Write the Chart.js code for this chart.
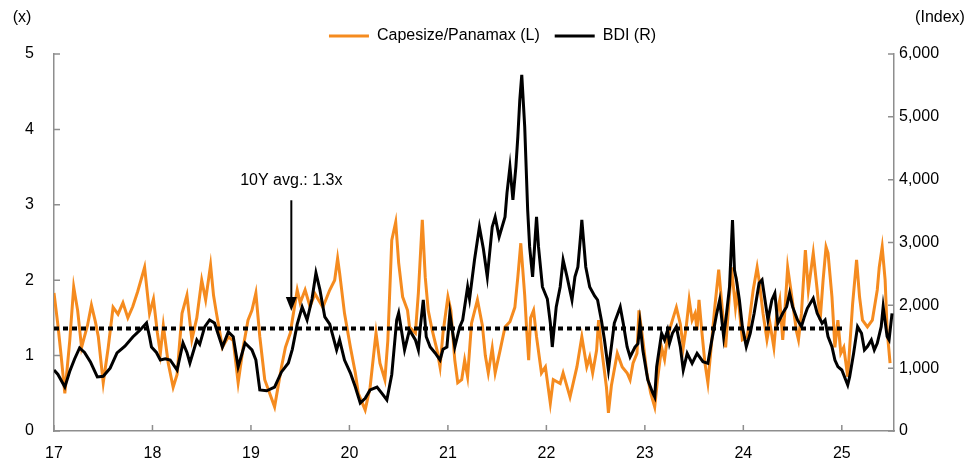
<!DOCTYPE html>
<html>
<head>
<meta charset="utf-8">
<title>Capesize/Panamax vs BDI</title>
<script src="https://cdn.jsdelivr.net/npm/chart.js@4.4.1/dist/chart.umd.min.js"></script>
<style>
    html, body { margin: 0; padding: 0; background: #fff; }
    #wrap { width: 973px; height: 463px; }
</style>
</head>
<body>
<div id="wrap"><canvas id="chart" width="973" height="463"></canvas></div>
<script>
// ---------- DATA ----------
const yearTicks = [2017, 2018, 2019, 2020, 2021, 2022, 2023, 2024, 2025];
const yearLabels = ["17", "18", "19", "20", "21", "22", "23", "24", "25"];

// Capesize/Panamax ratio (x), left axis
const capeDates = [
    2017.00, 2017.04, 2017.07, 2017.11, 2017.16, 2017.20, 2017.24, 2017.28, 2017.34, 2017.38,
    2017.42, 2017.45, 2017.50, 2017.55, 2017.60, 2017.65, 2017.70, 2017.75, 2017.80, 2017.85,
    2017.92, 2017.97, 2018.01, 2018.05, 2018.08, 2018.11, 2018.16, 2018.21, 2018.25, 2018.30,
    2018.35, 2018.40, 2018.45, 2018.50, 2018.54, 2018.59, 2018.62, 2018.65, 2018.71, 2018.77,
    2018.82, 2018.87, 2018.92, 2018.97, 2019.01, 2019.05, 2019.09, 2019.14, 2019.19, 2019.24,
    2019.31, 2019.35, 2019.40, 2019.42, 2019.47, 2019.50, 2019.55, 2019.60, 2019.65, 2019.73,
    2019.80, 2019.85, 2019.88, 2019.90, 2019.95, 2020.01, 2020.06, 2020.09, 2020.16, 2020.21,
    2020.27, 2020.31, 2020.36, 2020.39, 2020.43, 2020.47, 2020.50, 2020.54, 2020.59, 2020.61,
    2020.67, 2020.70, 2020.74, 2020.77, 2020.80, 2020.84, 2020.89, 2020.92, 2020.95, 2021.00,
    2021.03, 2021.07, 2021.10, 2021.14, 2021.17, 2021.20, 2021.24, 2021.30, 2021.35, 2021.38,
    2021.41, 2021.45, 2021.48, 2021.53, 2021.58, 2021.63, 2021.68, 2021.71, 2021.74, 2021.78,
    2021.80, 2021.82, 2021.84, 2021.87, 2021.90, 2021.95, 2021.99, 2022.04, 2022.07, 2022.14,
    2022.17, 2022.24, 2022.31, 2022.36, 2022.41, 2022.44, 2022.47, 2022.51, 2022.53, 2022.56,
    2022.61, 2022.63, 2022.66, 2022.72, 2022.77, 2022.82, 2022.85, 2022.88, 2022.92, 2022.94,
    2022.98, 2023.02, 2023.06, 2023.10, 2023.13, 2023.17, 2023.20, 2023.23, 2023.28, 2023.32,
    2023.36, 2023.39, 2023.42, 2023.45, 2023.48, 2023.51, 2023.53, 2023.55, 2023.58, 2023.61,
    2023.64, 2023.68, 2023.71, 2023.75, 2023.79, 2023.82, 2023.85, 2023.88, 2023.92, 2023.94,
    2023.99, 2024.04, 2024.07, 2024.10, 2024.14, 2024.16, 2024.20, 2024.24, 2024.27, 2024.31,
    2024.34, 2024.37, 2024.40, 2024.42, 2024.45, 2024.49, 2024.54, 2024.56, 2024.59, 2024.63,
    2024.66, 2024.71, 2024.75, 2024.78, 2024.81, 2024.84, 2024.86, 2024.90, 2024.93, 2024.96,
    2024.99, 2025.02, 2025.06, 2025.08, 2025.11, 2025.15, 2025.18, 2025.21, 2025.26, 2025.31,
    2025.36, 2025.38, 2025.41, 2025.44, 2025.46, 2025.49
];
const capeValues = [
    1.83, 1.40, 1.03, 0.50, 1.20, 1.91, 1.60, 1.11, 1.40, 1.67,
    1.45, 1.25, 0.64, 1.10, 1.64, 1.55, 1.70, 1.50, 1.65, 1.85,
    2.17, 1.56, 1.75, 1.30, 1.03, 1.40, 0.90, 0.58, 0.75, 1.56,
    1.80, 1.21, 1.50, 2.00, 1.74, 2.20, 1.80, 1.56, 1.11, 1.25,
    1.20, 0.64, 1.10, 1.47, 1.60, 1.83, 1.25, 0.68, 0.50, 0.32,
    0.85, 1.11, 1.30, 1.47, 1.87, 1.70, 1.87, 1.65, 1.82, 1.64,
    1.87, 2.00, 2.29, 2.10, 1.56, 1.11, 0.77, 0.50, 0.28, 0.58,
    1.30, 0.90, 0.68, 1.20, 2.53, 2.77, 2.23, 1.78, 1.60, 1.38,
    1.30, 1.83, 2.80, 2.04, 1.60, 1.34, 1.07, 0.85, 1.30, 1.78,
    1.60, 0.94, 0.64, 0.68, 0.94, 0.72, 1.43, 1.74, 1.40, 1.00,
    0.77, 1.10, 0.77, 1.07, 1.38, 1.45, 1.64, 2.04, 2.49, 1.80,
    1.34, 0.94, 1.50, 1.60, 1.25, 0.77, 0.85, 0.37, 0.68, 0.63,
    0.77, 0.45, 0.85, 1.25, 0.85, 0.98, 0.77, 1.07, 1.47, 1.10,
    0.58, 0.24, 0.60, 1.03, 0.85, 0.77, 0.68, 0.90, 1.03, 1.60,
    1.20, 0.77, 0.50, 0.32, 0.70, 1.11, 0.95, 1.25, 1.47, 1.64,
    1.42, 1.11, 1.38, 1.74, 1.47, 1.56, 1.34, 1.74, 1.30, 0.90,
    0.64, 1.21, 1.64, 2.14, 1.56, 1.11, 1.64, 2.17, 1.64, 1.87,
    1.21, 1.25, 1.56, 1.87, 2.17, 2.00, 1.56, 1.21, 1.43, 1.11,
    1.56, 1.74, 1.21, 1.56, 2.17, 1.80, 1.32, 1.21, 1.56, 2.40,
    1.87, 2.36, 1.87, 1.47, 2.00, 2.44, 2.36, 1.78, 1.11, 1.47,
    1.03, 1.11, 0.72, 1.11, 1.69, 2.27, 1.78, 1.47, 1.38, 1.47,
    1.87, 2.17, 2.44, 2.00, 1.34, 0.90
];

// Baltic Dry Index, right axis
const bdiDates = [
    2017.00, 2017.04, 2017.11, 2017.16, 2017.21, 2017.26, 2017.31, 2017.37, 2017.44, 2017.50,
    2017.57, 2017.64, 2017.72, 2017.80, 2017.87, 2017.94, 2017.97, 2017.99, 2018.04, 2018.08,
    2018.13, 2018.18, 2018.25, 2018.31, 2018.35, 2018.38, 2018.45, 2018.48, 2018.53, 2018.58,
    2018.63, 2018.71, 2018.77, 2018.82, 2018.87, 2018.94, 2019.01, 2019.05, 2019.09, 2019.16,
    2019.24, 2019.31, 2019.38, 2019.42, 2019.47, 2019.52, 2019.57, 2019.62, 2019.66, 2019.70,
    2019.75, 2019.80, 2019.87, 2019.90, 2019.95, 2020.01, 2020.06, 2020.11, 2020.16, 2020.21,
    2020.28, 2020.33, 2020.38, 2020.43, 2020.48, 2020.50, 2020.56, 2020.61, 2020.67, 2020.70,
    2020.72, 2020.75, 2020.78, 2020.82, 2020.87, 2020.92, 2020.95, 2020.99, 2021.02, 2021.07,
    2021.12, 2021.15, 2021.20, 2021.22, 2021.27, 2021.32, 2021.36, 2021.40, 2021.45, 2021.48,
    2021.52, 2021.58, 2021.60, 2021.63, 2021.66, 2021.69, 2021.71, 2021.73, 2021.75, 2021.78,
    2021.81, 2021.83, 2021.86, 2021.90, 2021.92, 2021.96, 2022.01, 2022.04, 2022.06, 2022.10,
    2022.14, 2022.17, 2022.21, 2022.26, 2022.29, 2022.32, 2022.35, 2022.36, 2022.40, 2022.44,
    2022.49, 2022.52, 2022.56, 2022.59, 2022.63, 2022.69, 2022.75, 2022.78, 2022.82, 2022.85,
    2022.90, 2022.93, 2022.95, 2022.98, 2023.03, 2023.08, 2023.10, 2023.12, 2023.17, 2023.20,
    2023.23, 2023.25, 2023.28, 2023.32, 2023.36, 2023.39, 2023.43, 2023.48, 2023.53, 2023.59,
    2023.64, 2023.68, 2023.73, 2023.76, 2023.80, 2023.83, 2023.86, 2023.89, 2023.91, 2023.93,
    2023.96, 2023.99, 2024.03, 2024.07, 2024.11, 2024.16, 2024.19, 2024.22, 2024.25, 2024.29,
    2024.32, 2024.35, 2024.40, 2024.44, 2024.47, 2024.50, 2024.55, 2024.59, 2024.62, 2024.65,
    2024.71, 2024.75, 2024.80, 2024.83, 2024.86, 2024.90, 2024.93, 2024.96, 2025.00, 2025.04,
    2025.06, 2025.08, 2025.12, 2025.16, 2025.20, 2025.23, 2025.26, 2025.30, 2025.33, 2025.36,
    2025.40, 2025.42, 2025.46, 2025.48, 2025.51
];
const bdiValues = [
    971, 900, 700, 950, 1150, 1321, 1250, 1100, 860, 870,
    1000, 1242, 1350, 1497, 1600, 1719, 1500, 1337, 1250, 1130,
    1150, 1130, 971, 1400, 1250, 1082, 1449, 1380, 1656, 1767,
    1720, 1337, 1576, 1500, 1019, 1400, 1290, 1130, 653, 640,
    700, 940, 1082, 1300, 1700, 1974, 1767, 2100, 2515, 2250,
    1815, 1700, 1290, 1450, 1130, 923, 700, 446, 520, 653,
    700, 600, 494, 900, 1767, 1879, 1290, 1608, 1450, 1290,
    1656, 2085, 1500, 1337, 1242, 1130, 1300, 1337, 1879, 1337,
    1656, 1767, 2292, 2100, 2722, 3248, 2900, 2452, 3248, 3407,
    3089, 3407, 3789, 4203, 3677, 4200, 4680, 5270, 5668, 4840,
    3518, 2930, 2452, 3407, 2930, 2292, 2100, 1719, 1337, 1974,
    2292, 2722, 2452, 2085, 2452, 2611, 3152, 3359, 2611, 2292,
    2150, 2085, 1750, 1449, 971, 1719, 1974, 1719, 1337, 1178,
    1337, 1390, 1719, 1280, 812, 605, 541, 1024, 1555, 1449,
    1600, 1396, 1555, 1661, 1343, 971, 1236, 1077, 1236, 1103,
    1077, 1449, 1873, 2085, 1502, 1873, 2298, 3359, 2563, 2404,
    2085, 1661, 1343, 1555, 1873, 2351, 2404, 2085, 1767, 2085,
    2192, 1714, 1873, 1979, 2192, 1979, 1767, 1661, 1820, 1953,
    2112, 1873, 1714, 1767, 1502, 1343, 1130, 1024, 971, 812,
    732, 865, 1236, 1661, 1555, 1290, 1343, 1449, 1290, 1396,
    1661, 1979, 1502, 1449, 1873
];

// 10Y average line (left axis)
const avgDates = [2017.00, 2025.03];
const avgValues = [1.36, 1.36];

// arrow annotation, in data units (x = year, y = left axis)
const noteText = "10Y avg.: 1.3x";
const noteX = 2019.41;
const noteLabelY = 3.32;
const noteTopY = 3.06;
const noteTipY = 1.59;

// ---------- STYLE ----------
const orange = "#F58B1F";
const axisGrey = "#8E8E8E";
const fontFamily = "'Liberation Sans', Arial, Helvetica, sans-serif";

Chart.defaults.font.family = fontFamily;
Chart.defaults.font.size = 16;
Chart.defaults.color = "#000";

const pairs = (xs, ys) => xs.map((x, i) => ({ x: x, y: ys[i] }));

// ---------- PLUGIN: inner tick marks, corner units, arrow note ----------
const extras = {
    id: "extras",
    afterDatasetsDraw(chart) {
        const { ctx, scales } = chart;
        const x = scales.x.getPixelForValue(noteX);
        const yTop = scales.y.getPixelForValue(noteTopY);
        const yTip = scales.y.getPixelForValue(noteTipY);
        ctx.save();
        ctx.strokeStyle = "#000";
        ctx.fillStyle = "#000";
        ctx.lineWidth = 2;
        ctx.beginPath();
        ctx.moveTo(x, yTop);
        ctx.lineTo(x, yTip - 10);
        ctx.stroke();
        ctx.beginPath();
        ctx.moveTo(x - 5.5, yTip - 14);
        ctx.lineTo(x + 5.5, yTip - 14);
        ctx.lineTo(x, yTip);
        ctx.closePath();
        ctx.fill();
        ctx.font = "16px " + fontFamily;
        ctx.textAlign = "center";
        ctx.textBaseline = "middle";
        ctx.fillText(noteText, x, scales.y.getPixelForValue(noteLabelY));
        ctx.restore();
    },
    afterDraw(chart) {
        const { ctx, chartArea: a, scales } = chart;
        ctx.save();
        ctx.strokeStyle = axisGrey;
        ctx.lineWidth = 1.5;
        ctx.beginPath();
        scales.y.ticks.forEach(t => {
            const py = scales.y.getPixelForValue(t.value);
            ctx.moveTo(a.left, py);
            ctx.lineTo(a.left + 6, py);
        });
        scales.y2.ticks.forEach(t => {
            const py = scales.y2.getPixelForValue(t.value);
            ctx.moveTo(a.right, py);
            ctx.lineTo(a.right - 6, py);
        });
        scales.x.ticks.forEach(t => {
            const px = scales.x.getPixelForValue(t.value);
            ctx.moveTo(px, a.bottom);
            ctx.lineTo(px, a.bottom - 6);
        });
        ctx.stroke();

        // unit labels above the axes
        ctx.fillStyle = "#000";
        ctx.font = "16px " + fontFamily;
        ctx.textBaseline = "middle";
        ctx.textAlign = "center";
        ctx.fillText("(x)", a.left - 32, 18);
        ctx.fillText("(Index)", a.right + 46, 18);
        ctx.restore();
    }
};

// ---------- CHART ----------
new Chart(document.getElementById("chart"), {
    type: "line",
    data: {
        datasets: [
            {
                label: "Capesize/Panamax (L)",
                data: pairs(capeDates, capeValues),
                borderColor: orange,
                backgroundColor: orange,
                borderWidth: 3,
                pointRadius: 0,
                tension: 0,
                yAxisID: "y",
                order: 2
            },
            {
                label: "BDI (R)",
                data: pairs(bdiDates, bdiValues),
                borderColor: "#000",
                backgroundColor: "#000",
                borderWidth: 3,
                pointRadius: 0,
                tension: 0,
                yAxisID: "y2",
                order: 1
            },
            {
                label: "avg",
                data: pairs(avgDates, avgValues),
                borderColor: "#000",
                borderWidth: 4,
                borderDash: [5, 4],
                pointRadius: 0,
                yAxisID: "y",
                order: 0
            }
        ]
    },
    options: {
        responsive: false,
        animation: false,
        devicePixelRatio: 1,
        layout: { padding: { top: 13, left: 12, right: 0, bottom: 0 } },
        plugins: {
            legend: {
                position: "top",
                labels: {
                    boxWidth: 40,
                    boxHeight: 3,
                    padding: 15,
                    color: "#000",
                    font: { size: 16 },
                    filter: item => item.datasetIndex !== 2,
                    sort: (a, b) => a.datasetIndex - b.datasetIndex,
                    generateLabels: chart =>
                        Chart.defaults.plugins.legend.labels.generateLabels(chart)
                            .map(l => Object.assign(l, { lineWidth: 0 }))
                }
            },
            tooltip: { enabled: false }
        },
        scales: {
            x: {
                type: "linear",
                min: 2017,
                max: 2025.53,
                afterBuildTicks: s => { s.ticks = yearTicks.map(v => ({ value: v })); },
                afterFit: s => { s.height = 32; },
                ticks: {
                    autoSkip: false,
                    maxRotation: 0,
                    padding: 13,
                    color: "#000",
                    callback: v => yearLabels[yearTicks.indexOf(v)]
                },
                grid: { display: true, drawOnChartArea: false, drawTicks: false },
                border: { display: true, color: axisGrey, width: 1.5 }
            },
            y: {
                position: "left",
                min: 0,
                max: 5,
                afterFit: s => { s.width = 42; },
                ticks: { stepSize: 1, padding: 20, color: "#000" },
                grid: { display: true, drawOnChartArea: false, drawTicks: false },
                border: { display: true, color: axisGrey, width: 1.5 }
            },
            y2: {
                position: "right",
                min: 0,
                max: 6000,
                afterFit: s => { s.width = 79; },
                ticks: {
                    stepSize: 1000,
                    padding: 5,
                    color: "#000",
                    callback: v => v.toLocaleString("en-US")
                },
                grid: { display: true, drawOnChartArea: false, drawTicks: false },
                border: { display: true, color: axisGrey, width: 1.5 }
            }
        }
    },
    plugins: [extras]
});
</script>
</body>
</html>
